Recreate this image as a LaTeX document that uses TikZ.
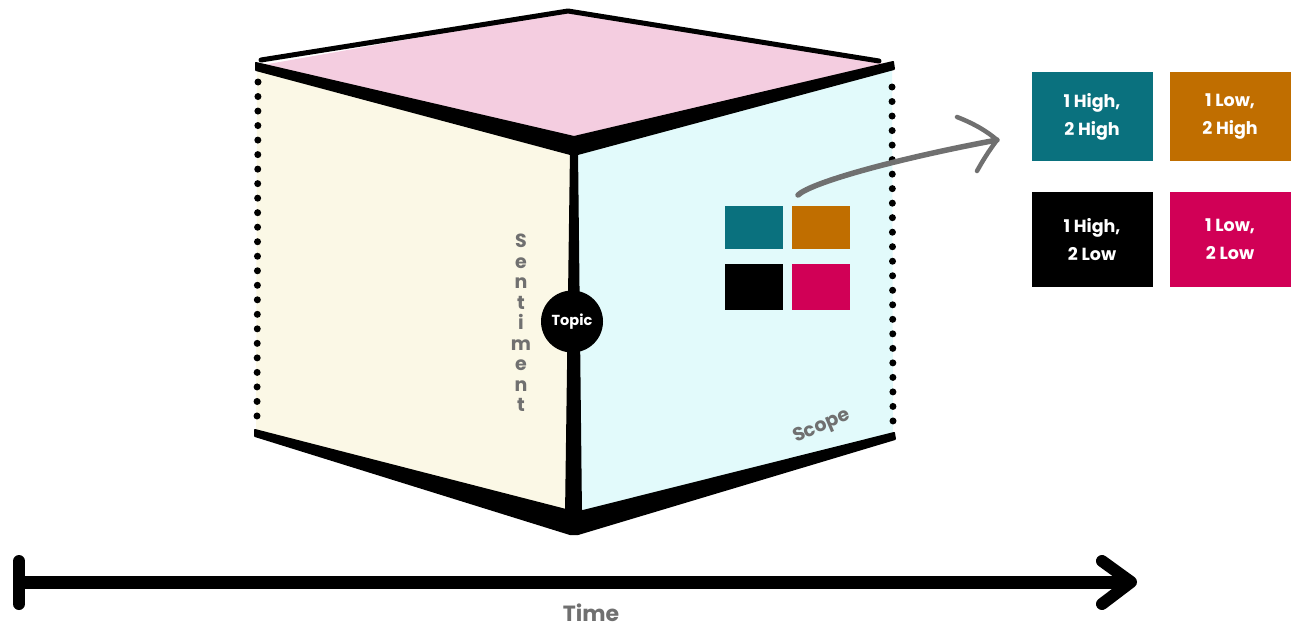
\documentclass[tikz,border=0pt]{standalone}
\usepackage{fontspec}
\setmainfont{Poppins}
\usetikzlibrary{arrows.meta}
\definecolor{creamf}{HTML}{FBF8E6}
\definecolor{cyanf}{HTML}{E2FAFB}
\definecolor{pinkf}{HTML}{F4CDE0}
\definecolor{myteal}{HTML}{0A717E}
\definecolor{myorange}{HTML}{C06E00}
\definecolor{mymag}{HTML}{D10056}
\definecolor{txtgray}{HTML}{707070}
\tikzset{
  wedge/.style={fill=black, draw=black, line width=2pt, line join=round},
  backline/.style={line width=5pt, line cap=round, line join=round},
  dotline/.style={line width=7pt, line cap=round, dash pattern=on 0pt off 14.52pt},
  smallsq/.style={draw=none, minimum width=58pt, inner sep=0pt},
  bigbox/.style={draw=none, minimum width=121pt, inner sep=0pt, text=white, align=center,
    font=\bfseries\fontsize{17.5}{28}\selectfont},
  graytext/.style={text=txtgray, font=\bfseries\fontsize{19}{19}\selectfont},
}
\begin{document}
\begin{tikzpicture}[x=1pt,y=-1pt]
\useasboundingbox (0,0) rectangle (1292,634);
% cube corners
\coordinate (A) at (257,66);
\coordinate (B) at (568,11);
\coordinate (C) at (892,65);
\coordinate (D) at (574,146);
\coordinate (E) at (574,520);
\coordinate (F) at (256,433);
\coordinate (G) at (893,436);
\coordinate (Ab) at (261,60);
\coordinate (Cb) at (879,61);
% faces
\fill[creamf] (A)--(D)--(E)--(F)--cycle;
\fill[cyanf] (D)--(C)--(G)--(E)--cycle;
\fill[pinkf] (A)--(B)--(C)--(D)--cycle;
% back top edges
\draw[backline] (Ab)--(B)--(Cb);
% front top edges (wedge)
\filldraw[wedge] (256,63) -- (574,137) -- (893,62) -- (894,69) -- (574,155) -- (256,70) -- cycle;
% front vertical edge
\fill (570,150) -- (578,150) -- (582,515) -- (565,515) -- cycle;
% bottom edges (wedge)
\filldraw[wedge] (255,430) -- (566,510) -- (583,511) -- (894,433) -- (895,439) -- (578,534) -- (570,534) -- (255,436) -- cycle;
% dotted vertical edges
\draw[dotline] (258,82)--(257,416);
\draw[dotline] (892,87)--(893,421);
% labels on cube
\node[circle, fill=black, minimum size=62pt, inner sep=0pt, text=white,
      font=\bfseries\fontsize{14.5}{14.5}\selectfont] (topic) at (572,321.5) {Topic};
\node[text=txtgray, align=center, font=\bfseries\fontsize{19}{20.5}\selectfont] (sent) at (521,323)
  {S\\e\\n\\t\\i\\m\\e\\n\\t};
\node[graytext, rotate=23] (scope) at (822,427) {Scope};
% small squares
\node[smallsq, fill=myteal, minimum height=43pt] (s1) at (754,227.5) {};
\node[smallsq, fill=myorange, minimum height=43pt] (s2) at (821,227.5) {};
\node[smallsq, fill=black, minimum height=46pt] (s3) at (754,287) {};
\node[smallsq, fill=mymag, minimum height=46pt] (s4) at (821,287) {};
% big boxes
\node[bigbox, fill=myteal, minimum height=89pt] (b1) at (1092,116.5) {1 High,\\2 High};
\node[bigbox, fill=myorange, minimum height=89pt] (b2) at (1230,116.5) {1 Low,\\2 High};
\node[bigbox, fill=black, minimum height=95pt] (b3) at (1092,239.5) {1 High,\\2 Low};
\node[bigbox, fill=mymag, minimum height=95pt] (b4) at (1230,239.5) {1 Low,\\2 Low};
% gray arrow
\coordinate (as) at (798,195);
\coordinate (ae) at (997,140);
\draw[txtgray, line width=5.5pt, line cap=round] (as) .. controls (812,182) and (900,158) .. (ae);
\draw[txtgray, line width=4.5pt, line cap=round, line join=round]
  (957,117) .. controls (975,124) and (988,132) .. (ae) .. controls (988,152) and (982,162) .. (977,171);
% timeline
\coordinate (t0) at (19,582);
\coordinate (t1) at (1131,582);
\draw[line width=13pt] (t0)--(t1);
\draw[line width=12pt, line cap=round] (19,561)--(19,604);
\draw[line width=12pt, line cap=round, line join=round] (1102,561)--(t1)--(1102,604);
\node[text=txtgray, font=\bfseries\fontsize{22}{22}\selectfont] (time) at (591,613) {Time};
\end{tikzpicture}
\end{document}
